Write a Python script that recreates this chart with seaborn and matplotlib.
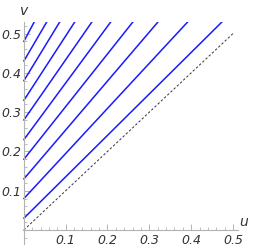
import numpy as np
import pandas as pd
import matplotlib
matplotlib.use("Agg")
import matplotlib.pyplot as plt
import seaborn as sns
from matplotlib.ticker import MultipleLocator

# contour lines: start at u=0 with these v-intercepts, end at top of plot (v = v_top)
intercepts = [0.03, 0.08, 0.13, 0.18, 0.23, 0.28, 0.33, 0.38, 0.43, 0.48]
end_u = [0.474, 0.392, 0.321, 0.261, 0.208, 0.163, 0.122, 0.086, 0.055, 0.025]
v_top = 0.53
# dashed diagonal u = v
diag_u = [0.0, 0.5]
diag_v = [0.0, 0.5]
x_ticks = [0.1, 0.2, 0.3, 0.4, 0.5]
y_ticks = [0.1, 0.2, 0.3, 0.4, 0.5]

rows = []
for i, (c, ue) in enumerate(zip(intercepts, end_u)):
    rows.append({"line": i, "u": 0.0, "v": c})
    rows.append({"line": i, "u": ue, "v": v_top})
df = pd.DataFrame(rows)
ddf = pd.DataFrame({"u": diag_u, "v": diag_v})

sns.set_style("white")
plt.rcParams["font.family"] = ["DejaVu Sans"]

fig = plt.figure(figsize=(2.54, 2.52), dpi=100)
ax = fig.add_axes([23 / 254, (252 - 243.8) / 252, 215 / 254, 222 / 252])

sns.lineplot(data=df, x="u", y="v", units="line", estimator=None,
             color="#1a1aff", lw=1.1, ax=ax, legend=False)
sns.lineplot(data=ddf, x="u", y="v", color="#333333", lw=0.7,
             linestyle=(0, (2.5, 2)), ax=ax, legend=False)

ax.set_xlim(-0.002, 0.512)
ax.set_ylim(-0.035, 0.53)

for s in ["top", "right"]:
    ax.spines[s].set_visible(False)
ax.spines["left"].set_position(("data", 0))
ax.spines["bottom"].set_position(("data", 0))
for s in ["left", "bottom"]:
    ax.spines[s].set_color("#b3b3b3")
    ax.spines[s].set_linewidth(0.8)

ax.set_xticks(x_ticks)
ax.set_yticks(y_ticks)
ax.set_xticklabels([f"{t:.1f}" for t in x_ticks])
ax.set_yticklabels([f"{t:.1f}" for t in y_ticks])
ax.xaxis.set_minor_locator(MultipleLocator(0.02))
ax.yaxis.set_minor_locator(MultipleLocator(0.02))
ax.tick_params(which="major", direction="in", length=4, width=0.7,
               color="#b3b3b3", labelsize=9, labelcolor="#333333", pad=2,
               bottom=True, left=True)
ax.tick_params(axis="x", which="major", pad=3)
ax.tick_params(which="minor", direction="in", length=2, width=0.6,
               color="#b3b3b3", bottom=True, left=True)
for lab in ax.get_xticklabels() + ax.get_yticklabels():
    lab.set_fontstyle("italic")

ax.set_xlabel("")
ax.set_ylabel("")
ax.text(0.516, 0.002, "u", fontsize=10, fontstyle="italic", color="#333333",
        ha="left", va="bottom", clip_on=False)
ax.text(0.0, 0.54, "v", fontsize=10, fontstyle="italic", color="#333333",
        ha="center", va="bottom", clip_on=False)

fig.savefig("out.png", dpi=100)
